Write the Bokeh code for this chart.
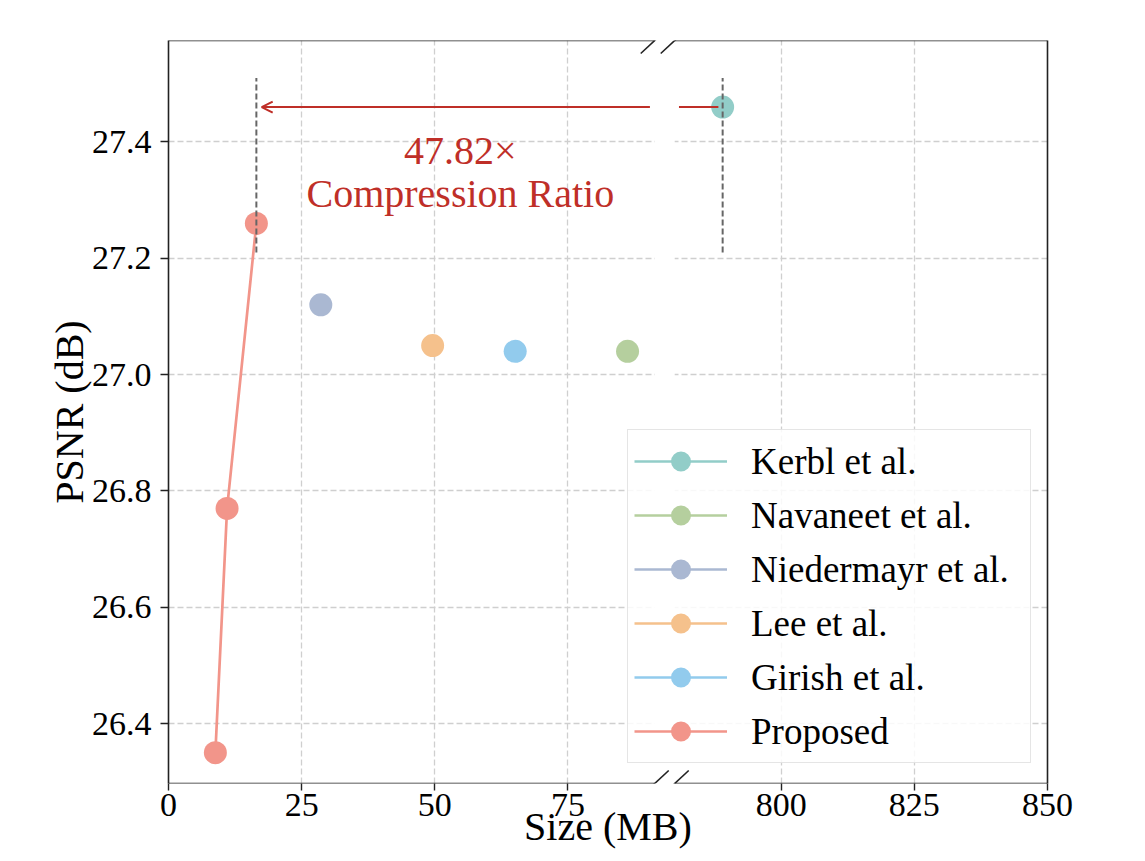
from bokeh.plotting import figure
from bokeh.models import (Range1d, LinearAxis, FixedTicker, CustomJSTickFormatter,
                          PrintfTickFormatter, Grid, Arrow, OpenHead, Label, Legend, LegendItem)
from bokeh.embed import file_html
from bokeh.resources import INLINE

# ---------------- data ----------------
methods = ["Kerbl et al.", "Navaneet et al.", "Niedermayr et al.", "Lee et al.", "Girish et al."]
method_size = [789.0, 86.2, 28.6, 49.6, 65.1]      # MB
method_psnr = [27.46, 27.04, 27.12, 27.05, 27.04]  # dB
method_colors = ["#92CDC8", "#B5CF9E", "#AAB8D2", "#F5C18C", "#92CBED"]

proposed_label = "Proposed"
proposed_size = [8.8, 11.0, 16.5]
proposed_psnr = [26.35, 26.77, 27.26]
proposed_color = "#F2958A"

ratio_text = "47.82×"
ratio_caption = "Compression Ratio"

x_ticks_left = [0, 25, 50, 75]
x_ticks_right = [800, 825, 850]
y_ticks = [26.4, 26.6, 26.8, 27.0, 27.2, 27.4]

left_xlim = (0.0, 91.3)
right_xlim = (780.0, 850.0)
ylim = (26.297, 27.5745)
vline_span = (27.21, 27.51)

# ---------------- layout ----------------
W, H = 1108, 860
B_LEFT, B_RIGHT, B_TOP, B_BOTTOM = 168, 61, 40, 77
frame_w = W - B_LEFT - B_RIGHT
frame_h = H - B_TOP - B_BOTTOM
gap_px = 20
k = (frame_w - gap_px) / ((left_xlim[1] - left_xlim[0]) + (right_xlim[1] - right_xlim[0]))
ky = frame_h / (ylim[1] - ylim[0])
prim_end = left_xlim[0] + frame_w / k
gap_end = left_xlim[1] + gap_px / k
offset = right_xlim[0] - gap_end        # right-value = primary + offset
right_start = left_xlim[0] + offset

SERIF = "Liberation Serif"
SPINE = "#222222"
RED = "#BF2F28"

p = figure(width=W, height=H, output_backend="svg", toolbar_location=None,
           x_range=Range1d(left_xlim[0], prim_end), y_range=Range1d(*ylim),
           min_border_left=B_LEFT, min_border_right=B_RIGHT,
           min_border_top=B_TOP, min_border_bottom=B_BOTTOM)
p.extra_x_ranges = {"right": Range1d(right_start, right_xlim[1])}
p.outline_line_color = None
p.background_fill_color = "white"
p.border_fill_color = "white"

# ---- axes ----
xa = p.xaxis[0]
xa.ticker = FixedTicker(ticks=x_ticks_left + [v - offset for v in x_ticks_right])
xa.formatter = CustomJSTickFormatter(args=dict(split=left_xlim[1], off=offset),
                                     code="return (tick > split ? tick + off : tick).toFixed(0);")
xa.axis_line_color = None
xa.major_tick_out = 7
xa.major_tick_in = 0
xa.major_tick_line_width = 1.4
xa.major_tick_line_color = SPINE
xa.minor_tick_line_color = None
xa.major_label_text_font = SERIF
xa.major_label_text_font_size = "34px"
xa.major_label_text_color = "black"
xa.major_label_standoff = 3
xa.axis_label = "Size (MB)"
xa.axis_label_text_font = SERIF
xa.axis_label_text_font_size = "40px"
xa.axis_label_text_font_style = "normal"
xa.axis_label_text_color = "black"
xa.axis_label_standoff = -15

ya = p.yaxis[0]
ya.ticker = FixedTicker(ticks=y_ticks)
ya.formatter = PrintfTickFormatter(format="%.1f")
ya.axis_line_color = SPINE
ya.axis_line_width = 1.6
ya.major_tick_out = 8
ya.major_tick_in = 0
ya.major_tick_line_width = 1.4
ya.major_tick_line_color = SPINE
ya.minor_tick_line_color = None
ya.major_label_text_font = SERIF
ya.major_label_text_font_size = "34px"
ya.major_label_text_color = "black"
ya.major_label_standoff = 9
ya.axis_label = "PSNR (dB)"
ya.axis_label_text_font = SERIF
ya.axis_label_text_font_size = "40px"
ya.axis_label_text_font_style = "normal"
ya.axis_label_text_color = "black"
ya.axis_label_standoff = -3

ra = LinearAxis(ticker=FixedTicker(ticks=[]), major_tick_line_color=None,
                minor_tick_line_color=None, major_label_text_font_size="0px",
                axis_line_color=SPINE, axis_line_width=1.6)
p.add_layout(ra, "right")

# ---- grids ----
GRID = dict(grid_line_color="#cfcfcf", grid_line_width=1.3, grid_line_dash="6 3")
p.xgrid.ticker = FixedTicker(ticks=x_ticks_left)
p.ygrid.ticker = FixedTicker(ticks=y_ticks)
for g in (p.xgrid[0], p.ygrid[0]):
    g.grid_line_color = GRID["grid_line_color"]
    g.grid_line_width = GRID["grid_line_width"]
    g.grid_line_dash = GRID["grid_line_dash"]
p.add_layout(Grid(dimension=0, ticker=FixedTicker(ticks=x_ticks_right), x_range_name="right", **GRID))

# white break between the two panels
p.quad(left=[left_xlim[1]], right=[gap_end], bottom=[ylim[0]], top=[ylim[1]],
       fill_color="white", line_color=None)

# ---- data ----
items = []
for name, xs, ys, c in zip(methods, method_size, method_psnr, method_colors):
    rng = "right" if xs > left_xlim[1] else "default"
    lr = p.line([xs], [ys], line_color=c, line_width=2.7, x_range_name=rng)
    sr = p.scatter([xs], [ys], size=23, fill_color=c, line_color=None, x_range_name=rng)
    items.append(LegendItem(label=name, renderers=[lr, sr]))
lr = p.line(proposed_size, proposed_psnr, line_color=proposed_color, line_width=2.7)
sr = p.scatter(proposed_size, proposed_psnr, size=23, fill_color=proposed_color, line_color=None)
items.append(LegendItem(label=proposed_label, renderers=[lr, sr]))

# dashed reference lines
best_x = proposed_size[-1]
kerbl_x, kerbl_y = method_size[0], method_psnr[0]
VL = dict(line_color="#666666", line_width=2, line_dash="6 3")
p.segment(x0=[best_x], y0=[vline_span[0]], x1=[best_x], y1=[vline_span[1]], **VL)
p.segment(x0=[kerbl_x], y0=[vline_span[0]], x1=[kerbl_x], y1=[vline_span[1]],
          x_range_name="right", **VL)

# compression arrow
p.add_layout(Arrow(end=OpenHead(size=11, line_color=RED, line_width=2),
                   x_start=left_xlim[1] - 0.9, y_start=kerbl_y,
                   x_end=best_x + 1.0, y_end=kerbl_y, line_color=RED, line_width=2))
p.add_layout(Arrow(end=None, x_start=right_xlim[0] + 0.8, y_start=kerbl_y,
                   x_end=kerbl_x - 0.8, y_end=kerbl_y, line_color=RED, line_width=2,
                   x_range_name="right"))
p.add_layout(Label(x=54.8, y=27.385, text=ratio_text, text_align="center",
                   text_baseline="alphabetic", text_font=SERIF, text_font_size="40px",
                   text_color=RED))
p.add_layout(Label(x=54.8, y=27.311, text=ratio_caption, text_align="center",
                   text_baseline="alphabetic", text_font=SERIF, text_font_size="40px",
                   text_color=RED))

# broken spines (top & bottom) and break marks
SP = dict(line_color=SPINE, line_width=1.6, end=None)
for yv in ylim:
    p.add_layout(Arrow(x_start=left_xlim[0], y_start=yv, x_end=left_xlim[1], y_end=yv, **SP))
    p.add_layout(Arrow(x_start=right_xlim[0], y_start=yv, x_end=right_xlim[1], y_end=yv,
                       x_range_name="right", **SP))
dx, dy = 14 / k, 13 / ky
for yv in ylim:
    p.add_layout(Arrow(x_start=left_xlim[1] - dx, y_start=yv - dy,
                       x_end=left_xlim[1] + dx, y_end=yv + dy, **SP))
    p.add_layout(Arrow(x_start=right_xlim[0] - dx, y_start=yv - dy,
                       x_end=right_xlim[0] + dx, y_end=yv + dy, x_range_name="right", **SP))

# ---- legend ----
legend = Legend(items=items, location=(459, 20),
                label_text_font=SERIF, label_text_font_size="37px",
                label_text_color="black",
                glyph_width=93, glyph_height=50, spacing=4, padding=6,
                label_standoff=24, label_width=273,
                border_line_color="#cccccc", border_line_width=1.2,
                background_fill_color="white", background_fill_alpha=0.85)
p.add_layout(legend)

open("out.html", "w").write(file_html(p, INLINE))
